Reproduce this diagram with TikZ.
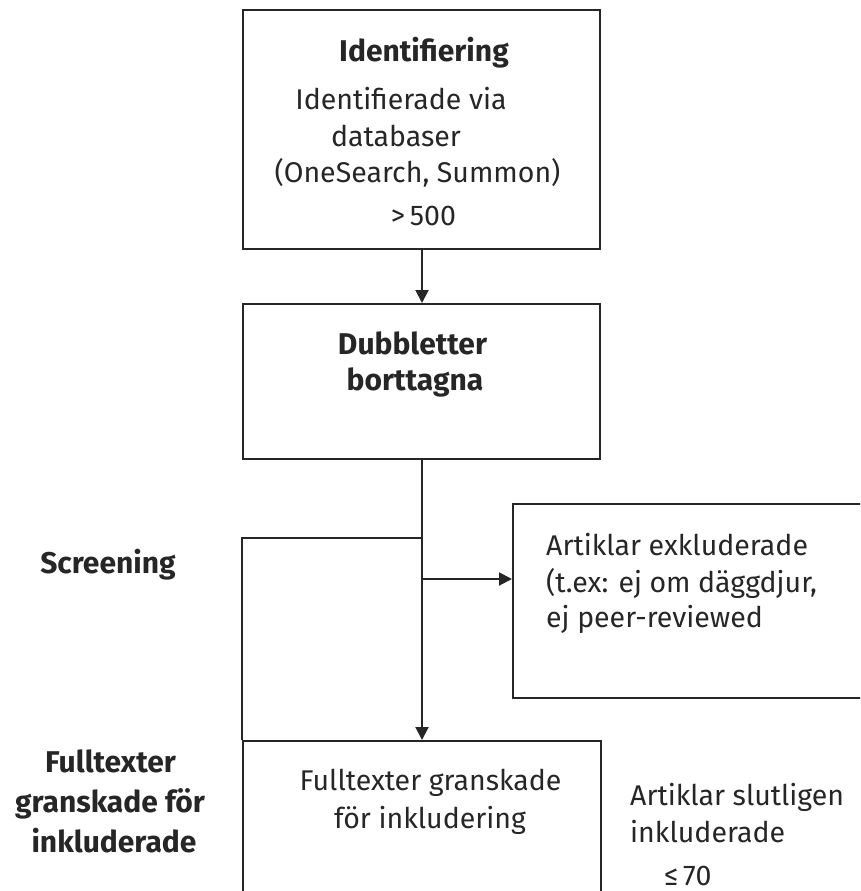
\documentclass[tikz,border=0pt]{standalone}
\usepackage{fontspec}
\setmainfont{Fira Sans}
\usetikzlibrary{arrows.meta}
\begin{document}
\begin{tikzpicture}[x=1pt,y=-1pt,
  box/.style={draw=black!85,line width=2pt,inner sep=0pt,anchor=north west},
  conn/.style={draw=black!85,line width=2pt},
  arr/.style={conn,-{Triangle[length=13pt,width=13pt]}},
  txt/.style={inner sep=0pt,font=\fontsize{28.5}{34}\selectfont,text=black!85},
  btxt/.style={txt,font=\fontsize{30}{36}\selectfont\bfseries}]
\useasboundingbox (0,0) rectangle (860,891);
\clip (0,0) rectangle (860,891);
% boxes
\node[box,minimum width=357pt,minimum height=239pt] (b1) at (242,9) {};
\node[box,minimum width=357pt,minimum height=155pt] (b2) at (242,303) {};
\node[box,minimum width=354pt,minimum height=194pt] (b3) at (512,503) {};
\node[box,minimum width=358pt,minimum height=157pt] (b4) at (242,740) {};
% frame of screening stage
\coordinate (ftop) at (422,538);
\coordinate (fcorner) at (242,538);
\coordinate (branch) at (422,579);
\draw[conn] (ftop) -- (fcorner) -- (fcorner |- b4.north);
% connectors
\draw[arr] (b1.south -| ftop) -- (b2.north -| ftop);
\draw[arr] (b2.south -| ftop) -- (b4.north -| ftop);
\draw[arr] (branch) -- (branch -| b3.west);
% texts box 1
\node[btxt,anchor=base] (t1) at (424,62) {Identifiering};
\node[txt,anchor=base] (t2) at (401,109) {Identifierade via};
\node[txt,anchor=base] (t3) at (396,146) {databaser};
\node[txt,anchor=base] (t4) at (417.5,182) {(OneSearch, Summon)};
\node[txt,anchor=base] (t5) at (423.5,225) {>\,500};
% box 2
\node[btxt,anchor=base] (t6) at (412.5,354) {Dubbletter};
\node[btxt,anchor=base] (t7) at (415,390) {borttagna};
% box 3
\node[txt,anchor=base west] (t8) at (546,555) {Artiklar exkluderade};
\node[txt,anchor=base west] (t9) at (546,592) {(t.ex: ej om däggdjur,};
\node[txt,anchor=base west] (t10) at (546,627) {ej peer-reviewed};
% left labels
\node[btxt,anchor=base] (t11) at (108,573) {Screening};
\node[btxt,anchor=base] (t12) at (110.5,772) {Fulltexter};
\node[btxt,anchor=base] (t13) at (110,812) {granskade för};
\node[btxt,anchor=base] (t14) at (114,852) {inkluderade};
% box 4
\node[txt,anchor=base] (t15) at (430.5,790) {Fulltexter granskade};
\node[txt,anchor=base] (t16) at (430,828) {för inkludering};
% right
\node[txt,anchor=base west] (t17) at (630,805) {Artiklar slutligen};
\node[txt,anchor=base west] (t18) at (630,842) {inkluderade};
\node[txt,anchor=base west] (t19) at (664,885) {≤\,70};
\end{tikzpicture}
\end{document}
